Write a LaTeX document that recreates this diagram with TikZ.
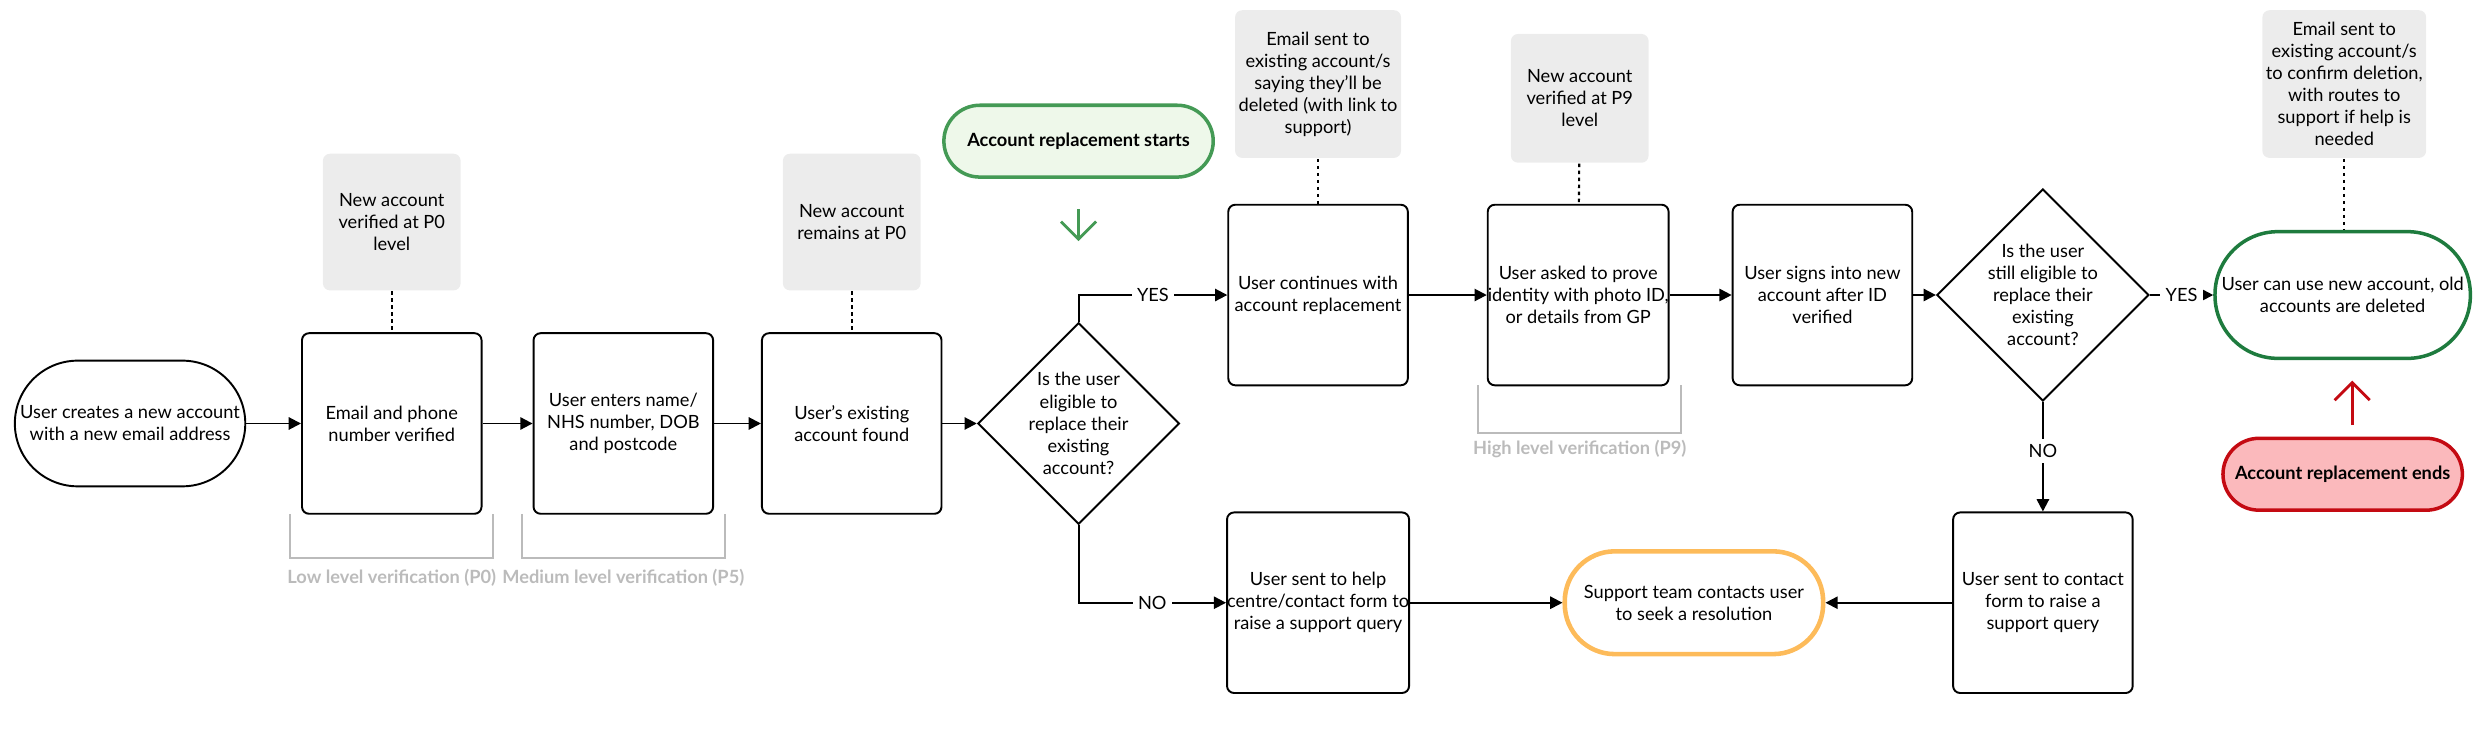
\documentclass[tikz,border=0pt]{standalone}
\usepackage{fontspec}
\setmainfont{Lato}
\usetikzlibrary{shapes.geometric,arrows.meta}

\definecolor{noteGrey}{HTML}{ECECEC}
\definecolor{bracketGrey}{HTML}{BBBBBB}
\definecolor{startGreen}{HTML}{449A55}
\definecolor{startFill}{HTML}{EEF8EA}
\definecolor{endGreen}{HTML}{1E7B3E}
\definecolor{endRed}{HTML}{C40A12}
\definecolor{endFill}{HTML}{FBB9BC}
\definecolor{supportYellow}{HTML}{FDBB5A}

\begin{document}
\begin{tikzpicture}[x=0.0159cm,y=-0.0159cm,font=\fontsize{5.2}{6.3}\selectfont,line width=0.55pt]

\tikzstyle{procStep}=[rectangle,draw,rounded corners=2pt,minimum width=1.8cm,minimum height=1.81cm,align=center,inner xsep=0pt,inner ysep=1pt]
\tikzstyle{note}=[rectangle,fill=noteGrey,rounded corners=2pt,align=center,inner sep=1pt]
\tikzstyle{pill}=[rectangle,draw,align=center,inner sep=1pt]
\tikzstyle{decision}=[diamond,draw,aspect=1,minimum width=1.91cm,minimum height=1.91cm,inner sep=0pt,align=center]
\tikzstyle{flow}=[-{Triangle[length=3.5pt,width=3.5pt]}]
\tikzstyle{link}=[dash pattern=on 1pt off 1pt,line width=0.6pt]
\tikzstyle{bracket}=[bracketGrey,line width=0.6pt]
\tikzstyle{level}=[text=bracketGrey,font=\fontsize{5.2}{6.3}\selectfont\bfseries]
\tikzstyle{marker}=[-{Straight Barb[length=5pt,width=10pt]},line width=0.8pt]

\useasboundingbox (0,0) rectangle (1568,465);

%Top row
\node[pill,rounded corners=0.63cm,minimum width=2.31cm,minimum height=1.26cm] (start) at (82,267) {User creates a new account\\with a new email address};
\node[procStep] (verify) at (247,267) {Email and phone\\number verified};
\node[procStep] (details) at (393,267) {User enters name/\\NHS number, DOB\\and postcode};
\node[procStep] (found) at (537,267) {User's existing\\account found};
\node[decision] (eligible) at (680,267) {Is the user\\eligible to\\replace their\\existing\\account?};

\node[procStep] (continue) at (831,186) {User continues with\\account replacement};
\node[procStep] (prove) at (995,186) {User asked to prove\\identity with photo ID,\\or details from GP};
\node[procStep] (signin) at (1149,186) {User signs into new\\account after ID\\verified};
\node[decision] (still) at (1288,186) {Is the user\\still eligible to\\replace their\\existing\\account?};
\node[pill,draw=endGreen,line width=1pt,rounded corners=0.63cm,minimum width=2.56cm,minimum height=1.27cm] (done) at (1477,186) {User can use new account, old\\accounts are deleted};

%Bottom row
\node[procStep] (help) at (831,380) {User sent to help\\centre/contact form to\\raise a support query};
\node[pill,draw=supportYellow,line width=1.3pt,rounded corners=0.5cm,minimum width=2.59cm,minimum height=1.03cm] (support) at (1068,380) {Support team contacts user\\to seek a resolution};
\node[procStep] (contact) at (1288,380) {User sent to contact\\form to raise a\\support query};

%Notes
\node[note,minimum width=1.38cm,minimum height=1.37cm] (noteP0) at (247,140) {New account\\verified at P0\\level};
\node[note,minimum width=1.38cm,minimum height=1.37cm] (noteKept) at (537,140) {New account\\remains at P0};
\node[note,minimum width=1.56cm,minimum height=1.48cm] (noteEmail) at (831,53) {Email sent to\\existing account/s\\saying they'll be\\deleted (with link to\\support)};
\node[note,minimum width=1.38cm,minimum height=1.29cm] (noteP9) at (996,62) {New account\\verified at P9\\level};
\node[note,minimum width=1.57cm,minimum height=1.48cm] (noteDone) at (1478,53) {Email sent to\\existing account/s\\to confirm deletion,\\with routes to\\support if help is\\needed};

\draw[link] (noteP0) -- (verify);
\draw[link] (noteKept) -- (found);
\draw[link] (noteEmail) -- (continue);
\draw[link] (noteP9) -- (prove);
\draw[link] (noteDone) -- (done.north -| noteDone);

%Start and end markers
\node[pill,draw=startGreen,fill=startFill,line width=1pt,rounded corners=0.36cm,minimum width=2.7cm,minimum height=0.72cm,font=\fontsize{5.2}{6.3}\selectfont\bfseries] (begins) at (680,89) {Account replacement starts};
\node[pill,draw=endRed,fill=endFill,line width=1pt,rounded corners=0.36cm,minimum width=2.4cm,minimum height=0.72cm,font=\fontsize{5.2}{6.3}\selectfont\bfseries] (ends) at (1477,299) {Account replacement ends};
\coordinate (beginsTip) at (680,152);
\coordinate (endsTip) at (1483,240);
\draw[marker,startGreen] (680,132) -- (beginsTip);
\draw[marker,endRed] (1483,268) -- (endsTip);

%Flow
\draw[flow] (start) -- (verify);
\draw[flow] (verify) -- (details);
\draw[flow] (details) -- (found);
\draw[flow] (found) -- (eligible);
\draw[flow] (eligible.north) |- node[pos=0.75,fill=white,inner sep=1.5pt] {YES} (continue);
\draw[flow] (eligible.south) |- node[pos=0.75,fill=white,inner sep=1.5pt] {NO} (help);
\draw[flow] (continue) -- (prove);
\draw[flow] (prove) -- (signin);
\draw[flow] (signin) -- (still);
\draw[flow] (still) -- node[fill=white,inner sep=1.5pt] {YES} (done);
\draw[flow] (still) -- node[pos=0.45,fill=white,inner sep=1.5pt] {NO} (contact);
\draw[flow] (help) -- (support);
\draw[flow] (contact) -- (support);

%Verification levels
\draw[bracket] (183,324) -- (183,352) -- (311,352) -- (311,324);
\draw[bracket] (329,324) -- (329,352) -- (457,352) -- (457,324);
\draw[bracket] (932,243) -- (932,273) -- (1060,273) -- (1060,243);
\node[level] (lowLevel) at (247,364) {Low level verification (P0)};
\node[level] (midLevel) at (393,364) {Medium level verification (P5)};
\node[level] (highLevel) at (996,283) {High level verification (P9)};

\end{tikzpicture}
\end{document}
